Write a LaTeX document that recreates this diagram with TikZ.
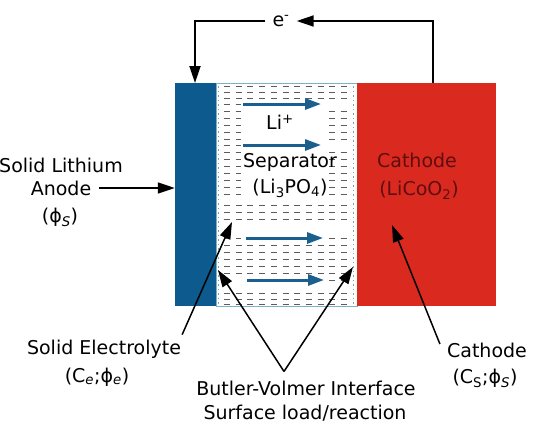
\documentclass[tikz,border=0pt]{standalone}
\usepackage{fontspec}
\setmainfont{DejaVu Sans}
\usetikzlibrary{arrows.meta}
\definecolor{anodeblue}{HTML}{0D5A8E}
\definecolor{cathred}{HTML}{DA291F}
\definecolor{ionblue}{HTML}{1B5F8F}
\definecolor{septeal}{HTML}{7DB1C6}
\definecolor{dashgray}{HTML}{5C5C5C}
\definecolor{cathtext}{HTML}{5E0E0E}
\begin{document}
\begin{tikzpicture}[x=1pt,y=-1pt,
  lbl/.style={font=\fontsize{19}{22}\selectfont, inner sep=3pt},
  block/.style={inner sep=0pt, minimum height=223pt},
  wire/.style={line width=1.8pt, -{Triangle[length=17pt,width=11pt]}},
  pointer/.style={line width=1.5pt, -{Triangle[length=17pt,width=11pt]}},
  ion/.style={ionblue, line width=3pt, -{Triangle[length=16pt,width=11pt]}},
  sepdash/.style={dashgray, line width=0.85pt, dash pattern=on 6pt off 5.7pt},
  sepdot/.style={septeal!70!gray, line width=0.6pt, dash pattern=on 1.5pt off 3pt},
]
\useasboundingbox (0,0) rectangle (554,426);

% cell blocks
\node[block, fill=anodeblue, minimum width=41pt] (anode) at (195.5,194.5) {};
\node[block, fill=white, draw=septeal, line width=1pt, minimum width=141pt] (sep) at (286.5,194.5) {};
\node[block, fill=cathred, minimum width=139pt] (cath) at (426.5,194.5) {};

% electrolyte hatching
\foreach \y in {86,92,98,205,212,219,245,252,259,266,273,293,299,304}
  \draw[sepdash] (224,\y) -- (351,\y);
\foreach \y in {104,111,118,125,132,139,145,152,159,166,173,180,187,194,238}
  \draw[sepdash] (224,\y) -- (241,\y);
\foreach \y in {111,118,125,132,139,152,159,166,173,180,187,194,238,280}
  \draw[sepdash] (329,\y) -- (351,\y);
\draw[sepdot] (218.5,86) -- (218.5,304);
\draw[sepdot] (353,86) -- (353,304);

% Li+ flow arrows
\coordinate (i1s) at (243,104); \coordinate (i1e) at (321,104);
\coordinate (i2s) at (243,145); \coordinate (i2e) at (321,145);
\coordinate (i3s) at (246,238); \coordinate (i3e) at (323,238);
\coordinate (i4s) at (247,280); \coordinate (i4e) at (324,280);
\draw[ion] (i1s) -- (i1e);
\draw[ion] (i2s) -- (i2e);
\draw[ion] (i3s) -- (i3e);
\draw[ion] (i4s) -- (i4e);

% texts inside
\node[lbl] (liion) at (280,122) {Li\textsuperscript{+}};
\node[lbl] (septxt) at (290,162) {Separator};
\node[lbl] (sepform) at (290,188) {(Li\textsubscript{3}PO\textsubscript{4})};
\node[lbl, text=cathtext] (cathtxt) at (417,160) {Cathode};
\node[lbl, text=cathtext] (cathform) at (419,190) {(LiCoO\textsubscript{2})};

% external circuit
\node[lbl, inner sep=7pt] (elec) at (281,21) {e\textsuperscript{-}};
\coordinate (cTop) at (433,83);
\coordinate (aTop) at (195,83);
\draw[wire] (cTop) |- (elec.east);
\draw[wire] (elec.west) -| (aTop);

% left labels
\node[lbl] (anL1) at (61,165) {Solid Lithium};
\node[lbl] (anL2) at (61,188) {Anode};
\node[lbl] (anL3) at (60,217) {(ϕ\textsubscript{\itshape S})};
\draw[pointer, shorten <=5pt] (anL2.east) -- (anode.west |- anL2.east);

% bottom labels
\node[lbl] (seL1) at (104,349) {Solid Electrolyte};
\node[lbl] (seL2) at (97,377) {(C\textsubscript{\itshape e};ϕ\textsubscript{\itshape e})};
\node[lbl] (bv1) at (306,388) {Butler-Volmer Interface};
\node[lbl] (bv2) at (305,413) {Surface load/reaction};
\node[lbl] (caL1) at (487,350) {Cathode};
\node[lbl] (caL2) at (485,378) {(C\textsubscript{S};ϕ\textsubscript{\itshape S})};

\coordinate (tSE) at (232,222);
\coordinate (tBVL) at (218,270);
\coordinate (tBVR) at (353,267);
\coordinate (tCA) at (392,225);
\draw[pointer] ([xshift=-2pt,yshift=2pt]seL1.north east) -- (tSE);
\draw[pointer] ([xshift=-22pt,yshift=6pt]bv1.north) -- (tBVL);
\draw[pointer] ([xshift=-22pt,yshift=6pt]bv1.north) -- (tBVR);
\draw[pointer] ([xshift=-4pt,yshift=6pt]caL1.west) -- (tCA);
\end{tikzpicture}
\end{document}
